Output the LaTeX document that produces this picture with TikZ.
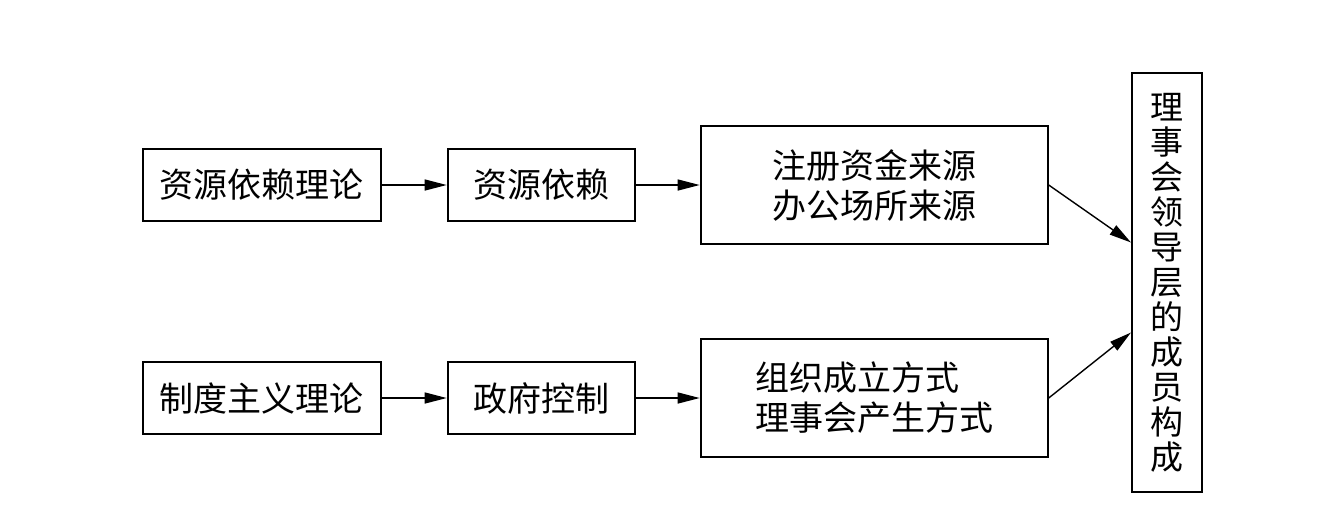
\documentclass[tikz,border=0pt]{standalone}
\usepackage{fontspec}
\setmainfont{Noto Sans CJK SC}
\usepackage{tikz}
\usetikzlibrary{arrows.meta, positioning, calc}

\begin{document}
\begin{tikzpicture}[
  box/.style={draw, line width=1pt, inner sep=0pt, minimum height=36pt,
              align=center, font=\fontsize{17}{20}\selectfont},
  wide/.style={box, minimum width=173.5pt, minimum height=59pt},
  arr/.style={-{Triangle[length=11pt, width=5.5pt]}, line width=0.7pt},
  node distance=69.5pt and 32.5pt
]
  \useasboundingbox (0,0) rectangle (672pt,-263.5pt);

  \node[box, minimum width=119pt] (res) at (130.85pt,-92.5pt) {资源依赖理论};
  \node[box, minimum width=93.5pt, right=of res] (dep) {资源依赖};
  \node[wide, right=32pt of dep] (fund) {注册资金来源\\办公场所来源};

  \node[box, minimum width=119pt, below=of res] (inst) {制度主义理论};
  \node[box, minimum width=93.5pt, right=of inst] (gov) {政府控制};
  \node[wide, align=left, right=32pt of gov] (org) {组织成立方式\\理事会产生方式};

  \node[draw, line width=1pt, minimum width=35pt, minimum height=209.5pt,
        inner sep=0pt, align=center, font=\fontsize{16.5}{17.5}\selectfont]
        (board) at (583.5pt,-141.25pt)
        {理\\事\\会\\领\\导\\层\\的\\成\\员\\构\\成};

  \draw[arr] (res)  -- (dep);
  \draw[arr] (dep)  -- (fund);
  \draw[arr] (inst) -- (gov);
  \draw[arr] (gov)  -- (org);
  \draw[arr] (fund.east) -- ($(board.west)+(0,20pt)$);
  \draw[arr] (org.east)  -- ($(board.west)+(0,-25pt)$);
\end{tikzpicture}
\end{document}
